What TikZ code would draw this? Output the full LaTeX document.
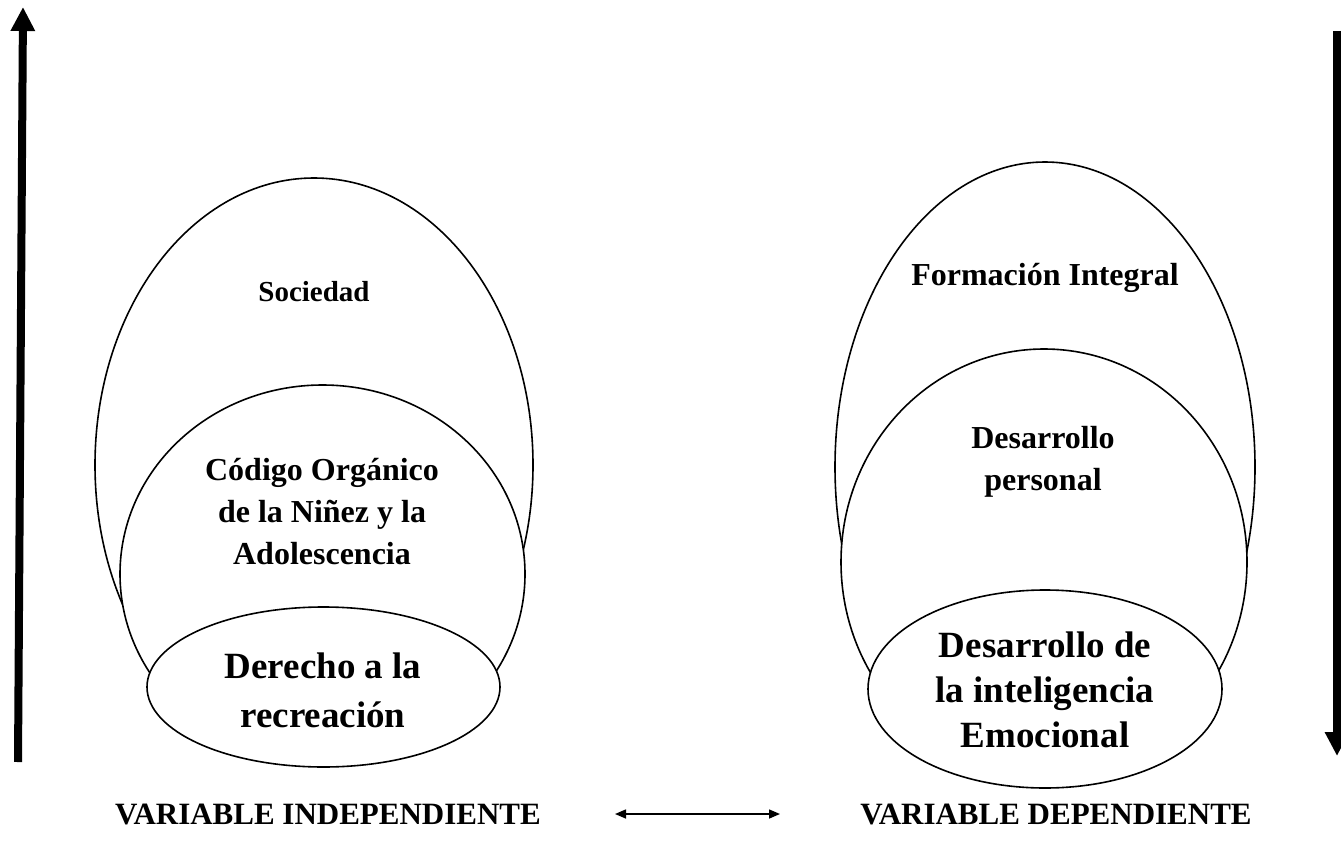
\documentclass[tikz,border=0pt]{standalone}
\usepackage{fontspec}
\setmainfont{Liberation Serif}
\usetikzlibrary{shapes.geometric,arrows.meta}
\begin{document}
\begin{tikzpicture}[x=1pt,y=-1pt,
  bubble/.style={draw,ellipse,fill=white,line width=1.6pt,inner sep=0pt},
  lab/.style={align=center,inner sep=0pt},
  bigarrow/.style={line width=8pt,-{Triangle[width=23pt,length=24pt]}},
  thinarrow/.style={line width=1.5pt,{Triangle[width=9pt,length=11pt]}-{Triangle[width=9pt,length=11pt]}}]
\useasboundingbox (0,0) rectangle (1341,856);
% left group
\node[bubble,minimum width=438pt,minimum height=574pt] (lo) at (314,465) {};
\node[bubble,minimum width=405pt,minimum height=378pt] (lm) at (322.5,574) {};
\node[bubble,minimum width=353pt,minimum height=160pt] (ls) at (323.5,687) {};
\node[lab,font=\bfseries\fontsize{29}{38}\selectfont] (tso) at (314,292) {Sociedad};
\node[lab,font=\bfseries\fontsize{32}{42}\selectfont] (tco) at (322,512) {Código Orgánico\\de la Niñez y la\\Adolescencia};
\node[lab,font=\bfseries\fontsize{37}{49}\selectfont] (tde) at (323,690) {Derecho a la\\recreación};
% right group
\node[bubble,minimum width=420pt,minimum height=610pt] (ro) at (1045,467) {};
\node[bubble,minimum width=406pt,minimum height=426pt] (rm) at (1044,562) {};
\node[bubble,minimum width=354pt,minimum height=198pt] (rs) at (1045,689) {};
\node[lab,font=\bfseries\fontsize{32}{42}\selectfont] (tfo) at (1045,278) {Formación Integral};
\node[lab,font=\bfseries\fontsize{32}{42}\selectfont] (tdp) at (1043,462) {Desarrollo\\personal};
\node[lab,font=\bfseries\fontsize{37}{45}\selectfont] (tdi) at (1045,690) {Desarrollo de\\la inteligencia\\Emocional};
% side arrows
\coordinate (la0) at (18,762);
\coordinate (la1) at (23,7);
\coordinate (ra0) at (1337,31);
\coordinate (ra1) at (1337,756);
\draw[bigarrow] (la0) -- (la1);
\draw[bigarrow] (ra0) -- (ra1);
% bottom
\node[lab,font=\bfseries\fontsize{31}{38}\selectfont] (vi) at (328,814) {VARIABLE INDEPENDIENTE};
\node[lab,font=\bfseries\fontsize{31}{38}\selectfont] (vd) at (1056,814) {VARIABLE DEPENDIENTE};
\coordinate (ba0) at (615,814);
\coordinate (ba1) at (780,814);
\draw[thinarrow] (ba0) -- (ba1);
\end{tikzpicture}
\end{document}
